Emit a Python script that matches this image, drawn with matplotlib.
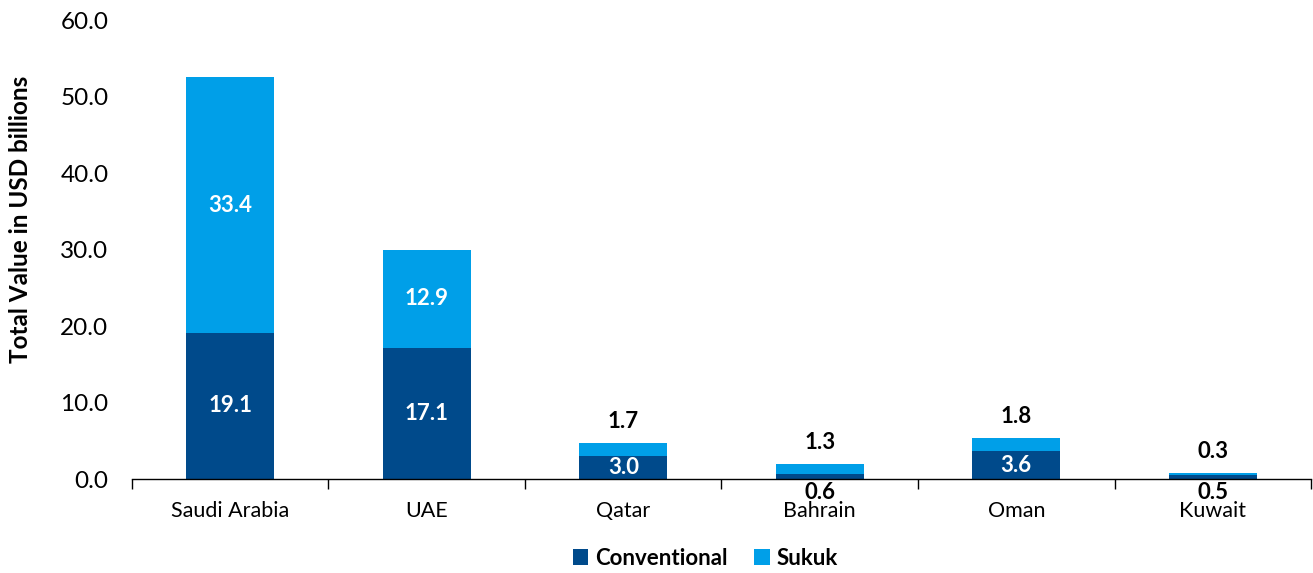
import matplotlib.pyplot as plt
import numpy as np

plt.rcParams['font.family'] = ['Lato', 'DejaVu Sans']

# Данные
countries = ["Saudi Arabia", "UAE", "Qatar", "Bahrain", "Oman", "Kuwait"]
conventional = [19.1, 17.1, 3.0, 0.6, 3.6, 0.5]
sukuk = [33.4, 12.9, 1.7, 1.3, 1.8, 0.3]

dark_blue = "#004A8B"
light_blue = "#009FE8"

fig = plt.figure(figsize=(13.13, 5.73), dpi=100)
ax = fig.add_axes([0.1005, 0.164, 0.898, 0.801])

x = np.arange(len(countries))
width = 0.45
ax.bar(x, conventional, width, color=dark_blue, label="Conventional")
ax.bar(x, sukuk, width, bottom=conventional, color=light_blue, label="Sukuk")

# Подписи значений
for i, (c, s) in enumerate(zip(conventional, sukuk)):
    if c >= 2:
        ax.text(i, c / 2, f"{c:.1f}", ha="center", va="center",
                color="white", fontsize=16, fontweight="bold")
    else:
        ax.annotate(f"{c:.1f}", (i, 0), xytext=(0, -2), textcoords="offset points",
                    ha="center", va="top", color="black", fontsize=16, fontweight="bold")
    if s >= 5:
        ax.text(i, c + s / 2, f"{s:.1f}", ha="center", va="center",
                color="white", fontsize=16, fontweight="bold")
    else:
        ax.annotate(f"{s:.1f}", (i, c + s), xytext=(0, 8), textcoords="offset points",
                    ha="center", va="bottom", color="black", fontsize=16, fontweight="bold")

ax.set_xlim(-0.5, len(countries) - 0.5)
ax.set_ylim(0, 60)
ax.set_yticks(np.arange(0, 61, 10))
ax.set_yticklabels([f"{v:.1f}" for v in np.arange(0, 61, 10)], fontsize=17.5)
ax.tick_params(axis="y", length=0, pad=17)

ax.set_xticks(x)
ax.set_xticklabels(countries, fontsize=15.5)
ax.tick_params(axis="x", length=0, pad=16)
ax.set_xticks(np.arange(-0.5, len(countries)), minor=True)
ax.tick_params(axis="x", which="minor", length=7, width=1, direction="out")

for side in ["left", "right", "top"]:
    ax.spines[side].set_visible(False)
ax.spines["bottom"].set_linewidth(1)

ax.set_ylabel("Total Value in USD billions", fontsize=17.5, fontweight="bold")
ax.yaxis.set_label_coords(-0.085, 0.565)

handles, labels = ax.get_legend_handles_labels()
fig.legend(handles, labels, loc="lower center", bbox_to_anchor=(0.537, -0.028), ncol=2,
           frameon=False, prop={"size": 16, "weight": "bold"},
           handlelength=0.7, handleheight=0.7, handletextpad=0.3, columnspacing=1.2)

fig.savefig("out.png", dpi=100)
